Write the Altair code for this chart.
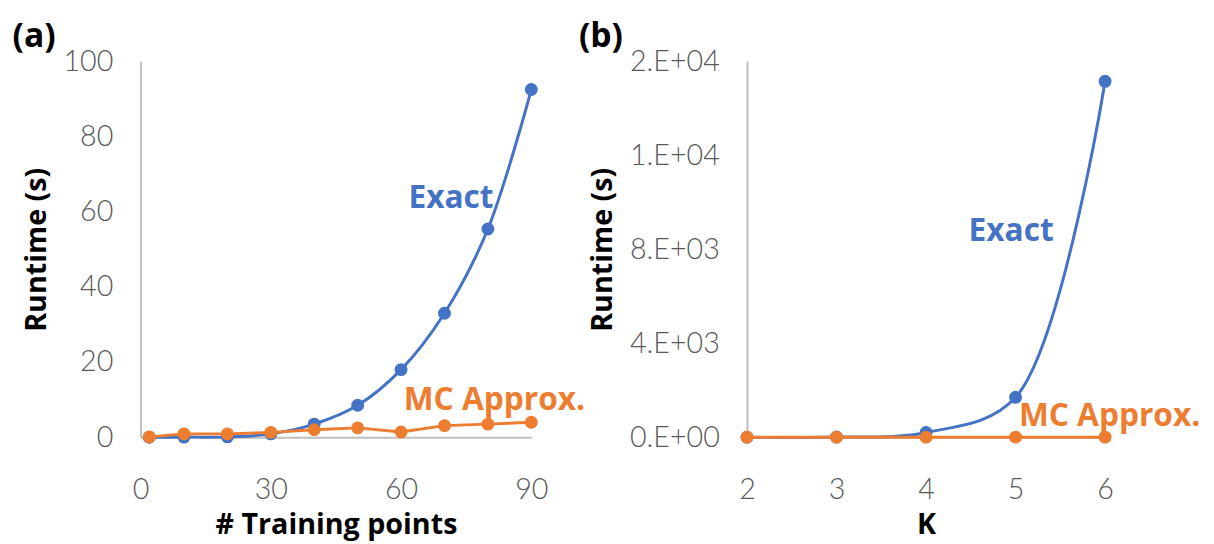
import altair as alt
import pandas as pd

# ---- data ----
n_points = [2, 10, 20, 30, 40, 50, 60, 70, 80, 90]
exact_a = [0.0, 0.05, 0.1, 0.9, 3.5, 8.5, 18.0, 33.0, 55.4, 92.5]
mc_a = [0.1, 0.9, 0.9, 1.3, 2.0, 2.5, 1.4, 3.1, 3.5, 4.0]

k_vals = [2, 3, 4, 5, 6]
exact_b = [1, 10, 200, 1700, 15150]
mc_b = [1, 2, 3, 4, 5]

b_ticks = [0, 4000, 8000, 12000, 16000]
b_tick_labels = ["0.E+00", "4.E+03", "8.E+03", "1.E+04", "2.E+04"]

ann_a = pd.DataFrame({"x": [71.5, 81.5], "y": [63.5, 9.8], "t": ["Exact", "MC Approx."], "s": ["Exact", "MC"]})
ann_b = pd.DataFrame({"x": [4.95, 6.05], "y": [8760, 900], "t": ["Exact", "MC Approx."], "s": ["Exact", "MC"]})

BLUE = "#4472C4"
ORANGE = "#ED7D31"
FONT = "Lato"
TFONT = "Open Sans"

df_a = pd.DataFrame({"x": n_points * 2, "y": exact_a + mc_a,
                     "s": ["Exact"] * len(n_points) + ["MC"] * len(n_points)})
df_b = pd.DataFrame({"x": k_vals * 2, "y": exact_b + mc_b,
                     "s": ["Exact"] * len(k_vals) + ["MC"] * len(k_vals)})

color = alt.Color("s:N", scale=alt.Scale(domain=["Exact", "MC"], range=[BLUE, ORANGE]), legend=None)

axis_common = dict(grid=False, ticks=False, labelFont=FONT, labelFontSize=29, labelFontWeight=300,
                   labelColor="#595959", labelFlush=False, labelOverlap=False,
                   titleFont=TFONT, titleFontSize=29, titleFontWeight="bold", titleColor="#000000",
                   domainColor="#BFBFBF", domainWidth=2)

label_expr = ""
for v, l in zip(b_ticks, b_tick_labels):
    label_expr += f"datum.value == {v} ? '{l}' : "
label_expr += "''"


def panel(df, ann, xdom, xticks, ydom, yticks, xtitle, ptitle, w, ylabel_expr=None):
    xs = alt.Scale(domain=xdom, nice=False, zero=False)
    ys = alt.Scale(domain=ydom, nice=False)
    xax = alt.Axis(values=xticks, title=xtitle, format="d", labelPadding=39, titlePadding=6,
                   domain=True, **axis_common)
    yargs = dict(values=yticks, title="Runtime (s)", labelPadding=28, titlePadding=12, **axis_common)
    if ylabel_expr:
        yargs["labelExpr"] = ylabel_expr
    yax = alt.Axis(**yargs)
    X = alt.X("x:Q", scale=xs, axis=xax)
    Y = alt.Y("y:Q", scale=ys, axis=yax)
    base = alt.Chart(df)
    layers = []
    for s in ["Exact", "MC"]:
        sub = base.transform_filter(alt.datum.s == s)
        interp = "catmull-rom" if s == "Exact" else "linear"
        line = sub.mark_line(strokeWidth=3, interpolate=interp).encode(x=X, y=Y, color=color)
        pts = sub.mark_circle(size=170, opacity=1).encode(x=X, y=Y, color=color)
        layers += [line, pts]
    txt = alt.Chart(ann).mark_text(font=TFONT, fontSize=32, fontWeight="bold", align="center",
                                   baseline="middle").encode(x=X, y=Y, text="t:N", color=color)
    layers.append(txt)
    return alt.layer(*layers).properties(
        width=w, height=380,
        title=alt.TitleParams(ptitle, anchor="start", font=TFONT, fontSize=34, fontWeight="bold",
                              color="#000000", dx=-10, offset=-7))


pa = panel(df_a, ann_a, [0, 90], [0, 30, 60, 90], [0, 100], [0, 20, 40, 60, 80, 100],
           "# Training points", "(a)", 395)
pb = panel(df_b, ann_b, [2, 6], [2, 3, 4, 5, 6], [0, 16000], b_ticks, "K", "(b)", 362, label_expr)

chart = alt.hconcat(pa, pb, spacing=218, bounds="flush").configure_view(stroke=None).properties(
    padding={"left": 4, "top": 10, "right": 5, "bottom": 5})

chart.save("out.html", embed_options={"renderer": "svg", "actions": False})
